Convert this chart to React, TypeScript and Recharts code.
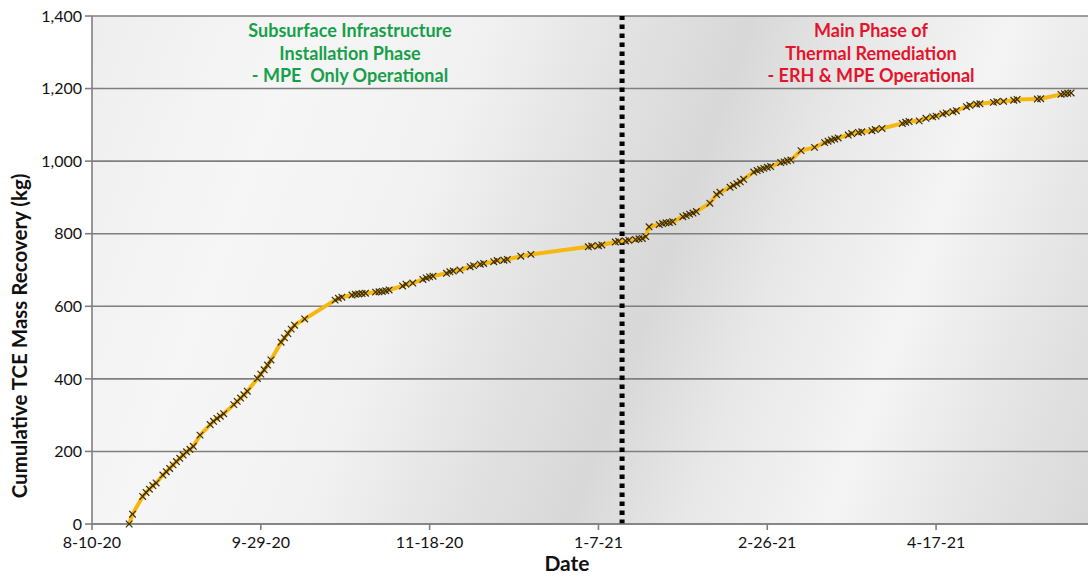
import React from 'react';
import {
  LineChart,
  Line,
  XAxis,
  YAxis,
  CartesianGrid,
  ReferenceLine,
} from 'recharts';

const sampleDates = [
  '2020-08-21', '2020-08-22', '2020-08-25', '2020-08-26', '2020-08-27', '2020-08-28', '2020-08-29',
  '2020-08-31', '2020-09-01', '2020-09-02', '2020-09-03', '2020-09-04', '2020-09-05', '2020-09-06',
  '2020-09-07', '2020-09-08', '2020-09-09', '2020-09-11', '2020-09-14', '2020-09-15', '2020-09-16',
  '2020-09-17', '2020-09-18', '2020-09-21', '2020-09-22', '2020-09-23', '2020-09-24', '2020-09-25',
  '2020-09-28', '2020-09-29', '2020-09-30', '2020-10-01', '2020-10-02', '2020-10-05', '2020-10-06',
  '2020-10-07', '2020-10-08', '2020-10-09', '2020-10-12', '2020-10-21', '2020-10-22', '2020-10-23',
  '2020-10-26', '2020-10-27', '2020-10-28', '2020-10-29', '2020-10-30', '2020-11-02', '2020-11-03',
  '2020-11-04', '2020-11-05', '2020-11-06', '2020-11-10', '2020-11-11', '2020-11-13', '2020-11-16',
  '2020-11-17', '2020-11-18', '2020-11-19', '2020-11-23', '2020-11-24', '2020-11-25', '2020-11-27',
  '2020-11-30', '2020-12-01', '2020-12-03', '2020-12-04', '2020-12-07', '2020-12-08', '2020-12-10',
  '2020-12-11', '2020-12-15', '2020-12-18', '2021-01-04', '2021-01-05', '2021-01-07', '2021-01-08',
  '2021-01-12', '2021-01-13', '2021-01-15', '2021-01-16', '2021-01-18', '2021-01-19', '2021-01-20',
  '2021-01-21', '2021-01-22', '2021-01-25', '2021-01-26', '2021-01-27', '2021-01-28', '2021-01-29',
  '2021-02-01', '2021-02-02', '2021-02-03', '2021-02-04', '2021-02-05', '2021-02-09', '2021-02-11',
  '2021-02-12', '2021-02-15', '2021-02-16', '2021-02-17', '2021-02-18', '2021-02-19', '2021-02-22',
  '2021-02-23', '2021-02-24', '2021-02-25', '2021-02-26', '2021-02-27', '2021-03-02', '2021-03-03',
  '2021-03-04', '2021-03-05', '2021-03-08', '2021-03-12', '2021-03-15', '2021-03-16', '2021-03-17',
  '2021-03-18', '2021-03-19', '2021-03-22', '2021-03-23', '2021-03-25', '2021-03-26', '2021-03-29',
  '2021-03-30', '2021-04-01', '2021-04-07', '2021-04-08', '2021-04-09', '2021-04-12', '2021-04-14',
  '2021-04-16', '2021-04-17', '2021-04-19', '2021-04-20', '2021-04-22', '2021-04-23', '2021-04-26',
  '2021-04-27', '2021-04-29', '2021-04-30', '2021-05-04', '2021-05-05', '2021-05-07', '2021-05-10',
  '2021-05-11', '2021-05-17', '2021-05-18', '2021-05-24', '2021-05-25', '2021-05-26', '2021-05-27',
];

const cumulativeKg = [
  0, 27, 76, 87, 96, 106, 113,
  135, 144, 153, 163, 172, 181, 190,
  199, 206, 214, 245, 274, 283, 291,
  297, 304, 329, 338, 347, 356, 366,
  401, 413, 425, 438, 452, 501, 513,
  525, 537, 548, 565, 617, 622, 625,
  631, 633, 634, 635, 636, 639, 640,
  641, 643, 645, 656, 661, 664, 674,
  678, 681, 683, 691, 695, 697, 700,
  709, 712, 716, 718, 723, 726, 727,
  729, 738, 743, 764, 766, 767, 769,
  777, 779, 780, 782, 784, 786, 787,
  792, 819, 825, 828, 830, 831, 833,
  847, 850, 854, 857, 861, 884, 908,
  914, 928, 933, 938, 943, 950, 970,
  974, 977, 980, 983, 985, 996, 998,
  1001, 1003, 1029, 1038, 1051, 1055, 1058,
  1061, 1064, 1072, 1076, 1079, 1081, 1084,
  1087, 1090, 1104, 1107, 1109, 1111, 1118,
  1122, 1124, 1130, 1133, 1136, 1139, 1150,
  1154, 1157, 1158, 1162, 1164, 1165, 1168,
  1170, 1171, 1172, 1184, 1186, 1187, 1188,
];

const xTickDates = ['2020-08-10', '2020-09-29', '2020-11-18', '2021-01-07', '2021-02-26', '2021-04-17'];
const xDomainDates = ['2020-08-10', '2021-06-01'];
const yTicks = [0, 200, 400, 600, 800, 1000, 1200, 1400];
const phaseChangeDate = '2021-01-14';

const leftPhaseLines = ['Subsurface Infrastructure', 'Installation Phase', '- MPE  Only Operational'];
const rightPhaseLines = ['Main Phase of', 'Thermal Remediation', '- ERH & MPE Operational'];

const toTime = (s: string) => new Date(s + 'T00:00:00Z').getTime();

const data = sampleDates.map((d, i) => ({ t: toTime(d), kg: cumulativeKg[i] }));

const fmtDate = (v: number) => {
  const d = new Date(v);
  return `${d.getUTCMonth() + 1}-${d.getUTCDate()}-${String(d.getUTCFullYear()).slice(2)}`;
};

const FONT = 'Lato, "DejaVu Sans", sans-serif';

const CrossDot = (props: any) => {
  const { cx, cy, index } = props;
  if (cx == null || cy == null) return <g key={`d-${index}`} />;
  const s = 3.3;
  return (
    <g key={`d-${index}`} stroke="#3b2c00" strokeWidth={1.2}>
      <line x1={cx - s} y1={cy - s} x2={cx + s} y2={cy + s} />
      <line x1={cx - s} y1={cy + s} x2={cx + s} y2={cy - s} />
    </g>
  );
};

const YTitle = (props: any) => {
  const vb = props.viewBox || { x: 0, y: 0, height: 0 };
  const x = 19;
  const y = vb.y + vb.height / 2 + 66;
  return (
    <text
      x={x}
      y={y}
      transform={`rotate(-90, ${x}, ${y})`}
      textAnchor="middle"
      dominantBaseline="central"
      fill="#111"
      fontSize={20.5}
      fontWeight={700}
      fontFamily={FONT}
    >
      Cumulative TCE Mass Recovery (kg)
    </text>
  );
};

function PhaseText({ lines, color, centerX }: { lines: string[]; color: string; centerX: number }) {
  return (
    <div
      style={{
        position: 'absolute',
        left: centerX - 160,
        top: 19,
        width: 320,
        textAlign: 'center',
        color,
        fontFamily: FONT,
        fontWeight: 700,
        fontSize: 18,
        lineHeight: '22.5px',
        whiteSpace: 'pre',
      }}
    >
      {lines.map((l) => (
        <div key={l}>{l}</div>
      ))}
    </div>
  );
}

export default function App() {
  return (
    <div style={{ position: 'absolute', left: 0, top: 0, width: 1090, height: 576, background: '#fff' }}>
      <div
        style={{
          position: 'absolute',
          left: 92,
          top: 16,
          width: 996,
          height: 508,
          background:
            'linear-gradient(110deg, #eeeeee 0%, #f6f6f6 18%, #f1f1f1 34%, #e2e2e2 46%, #d8d8d8 56%, #e8e8e8 66%, #f4f4f4 78%, #e4e4e4 90%, #d9d9d9 100%)',
        }}
      />
      <LineChart
        width={1090}
        height={576}
        data={data}
        margin={{ top: 16, right: 2, bottom: 0, left: 0 }}
      >
        <CartesianGrid vertical={false} stroke="#7f7f7f" strokeWidth={1.6} />
        <XAxis
          dataKey="t"
          type="number"
          scale="time"
          domain={xDomainDates.map(toTime)}
          ticks={xTickDates.map(toTime)}
          tickFormatter={fmtDate}
          height={52}
          stroke="#7f7f7f"
          strokeWidth={1.6}
          tickSize={6}
          tickMargin={7}
          tick={{ fill: '#111', fontSize: 16, fontFamily: FONT }}
          label={{
            value: 'Date',
            position: 'insideBottom',
            offset: 5,
            dx: -23,
            style: { fill: '#111', fontSize: 21, fontWeight: 700, fontFamily: FONT },
          }}
        />
        <YAxis
          type="number"
          domain={[0, 1400]}
          ticks={yTicks}
          width={92}
          tickFormatter={(v: number) => v.toLocaleString('en-US')}
          stroke="#7f7f7f"
          strokeWidth={1.6}
          tickSize={7}
          tickMargin={3}
          tick={{ fill: '#111', fontSize: 16, fontFamily: FONT }}
          label={{ content: YTitle }}
        />
        <ReferenceLine
          x={toTime(phaseChangeDate)}
          stroke="#000"
          strokeWidth={5}
          strokeDasharray="4.5 4.5"
        />
        <Line
          type="linear"
          dataKey="kg"
          stroke="#f6b80e"
          strokeWidth={4}
          dot={CrossDot}
          activeDot={false}
          isAnimationActive={false}
        />
      </LineChart>
      <PhaseText lines={leftPhaseLines} color="#16a04a" centerX={350} />
      <PhaseText lines={rightPhaseLines} color="#e3142b" centerX={871} />
    </div>
  );
}
